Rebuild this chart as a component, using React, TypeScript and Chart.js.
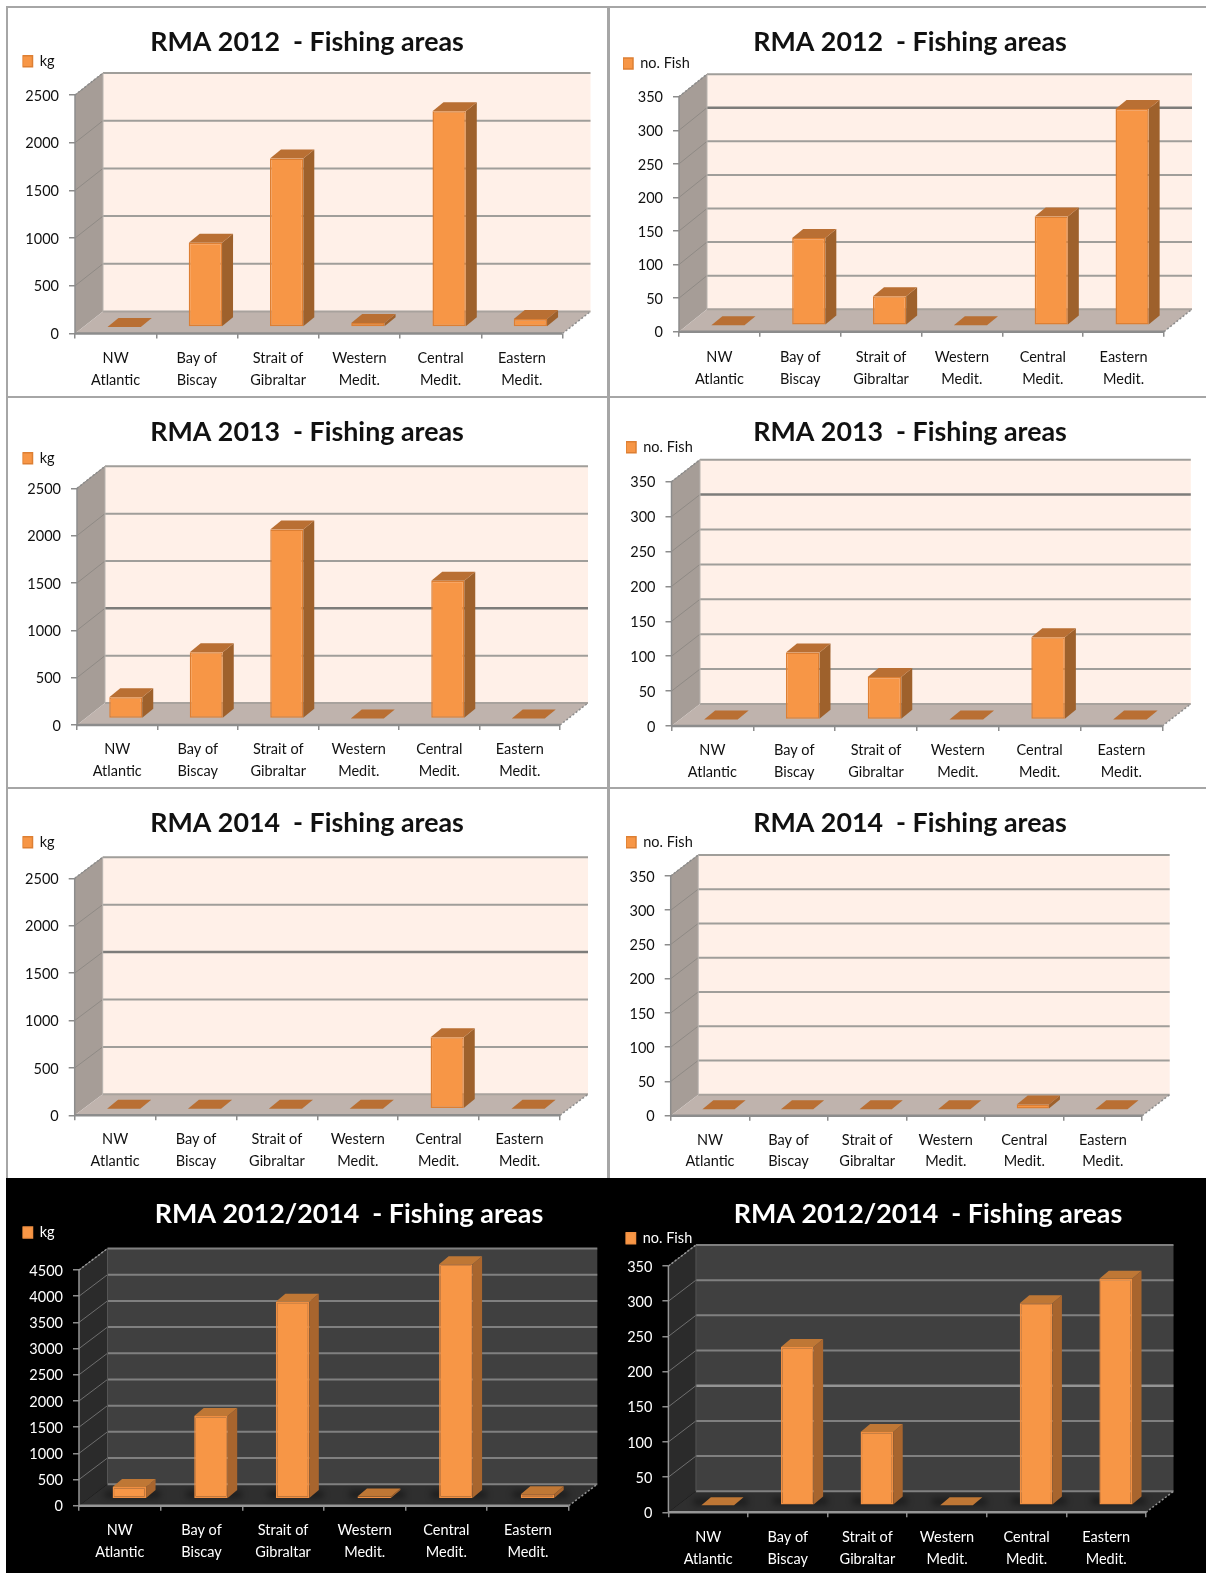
import React, { useEffect, useRef } from "react";
import { Chart, registerables } from "chart.js";

Chart.register(...registerables);

// Fishing areas shared by every panel
const areas: string[][] = [
  ["NW", "Atlantic"],
  ["Bay of", "Biscay"],
  ["Strait of", "Gibraltar"],
  ["Western", "Medit."],
  ["Central", "Medit."],
  ["Eastern", "Medit."],
];

// Catch weight per area
const kg2012 = [0, 882, 1765, 42, 2262, 85];
const kg2013 = [224, 699, 1996, 0, 1455, 0];
const kg2014 = [0, 0, 0, 0, 755, 0];
const kgTotal = [224, 1581, 3761, 42, 4477, 85];

// Fish counts per area
const fish2012 = [0, 130, 43, 0, 162, 322];
const fish2013 = [0, 96, 61, 0, 118, 0];
const fish2014 = [0, 0, 0, 0, 7, 0];
const fishTotal = [0, 225, 104, 0, 287, 322];

const FONT = "Lato, 'Noto Sans', sans-serif";

type Palette = {
  text: string;
  wall: string;
  side: string;
  floor: string;
  grid: string;
  strong: string;
  sideGrid: string;
  edge: string;
  barEdge: string;
  barSide: string;
  barTop: string;
  dark: boolean;
};

const lightPalette: Palette = {
  text: "#111111",
  wall: "#fff0e8",
  side: "#a69d97",
  floor: "#bfb3ad",
  grid: "#a09e9a",
  strong: "#7d7c7a",
  sideGrid: "#8f8a85",
  edge: "#8c8c8c",
  barEdge: "#dd7f33",
  barSide: "#9e612c",
  barTop: "#b96f33",
  dark: false,
};

const darkPalette: Palette = {
  text: "#ffffff",
  wall: "#404040",
  side: "#2b2b2b",
  floor: "#2f2f2f",
  grid: "#808080",
  strong: "#949494",
  sideGrid: "#6e6e6e",
  edge: "#969696",
  barEdge: "#f08f42",
  barSide: "#a8652e",
  barTop: "#bf7735",
  dark: true,
};

type Panel = {
  title: string;
  unit: string;
  values: number[];
  max: number;
  step: number;
  strong: number[];
  palette: Palette;
  top: number; // panel top edge
  height: number;
  titleX: number; // heading centre
  canvasLeft: number;
  canvasRight: number;
  titleY: number; // centre of the title's capitals
  legendX: number;
  legendY: number;
  axisX: number; // front left corner of the floor
  frontRight: number;
  valueTop: number; // page y of the scale maximum on the front plane
  valueZero: number; // page y of zero on the front plane
  labelGap: number;
  depthX: number;
  depthY: number;
  barDepthX: number;
  barDepthY: number;
  barShiftX: number;
  barShiftY: number;
};

const T2012 = "RMA 2012  - Fishing areas";
const T2013 = "RMA 2013  - Fishing areas";
const T2014 = "RMA 2014  - Fishing areas";
const TALL = "RMA 2012/2014  - Fishing areas";

const lightBar = { barDepthX: 11, barDepthY: 9, barShiftX: 8.5, barShiftY: 6.5 };
const darkBar = { barDepthX: 9.5, barDepthY: 8, barShiftX: 9.5, barShiftY: 7 };

const panels: Panel[] = [
  { title: T2012, unit: "kg", values: kg2012, max: 2500, step: 500, strong: [], palette: lightPalette, top: 8, height: 388, titleX: 307, canvasLeft: 10, canvasRight: 600, titleY: 42.5, legendX: 22.5, legendY: 55.7, axisX: 75, frontRight: 562.5, valueTop: 95, valueZero: 333.5, labelGap: 9, depthX: 28, depthY: 22, ...lightBar },
  { title: T2012, unit: "no. Fish", values: fish2012, max: 350, step: 50, strong: [300], palette: lightPalette, top: 8, height: 388, titleX: 910, canvasLeft: 612, canvasRight: 1204, titleY: 42.5, legendX: 623, legendY: 58, axisX: 679, frontRight: 1164, valueTop: 96.7, valueZero: 331.7, labelGap: 10, depthX: 28, depthY: 22.5, ...lightBar },
  { title: T2013, unit: "kg", values: kg2013, max: 2500, step: 500, strong: [1000], palette: lightPalette, top: 398, height: 389, titleX: 307, canvasLeft: 10, canvasRight: 600, titleY: 432.5, legendX: 22.5, legendY: 452.7, axisX: 77, frontRight: 560, valueTop: 488.3, valueZero: 725, labelGap: 8.5, depthX: 28, depthY: 22, ...lightBar },
  { title: T2013, unit: "no. Fish", values: fish2013, max: 350, step: 50, strong: [300], palette: lightPalette, top: 398, height: 389, titleX: 910, canvasLeft: 612, canvasRight: 1204, titleY: 432.5, legendX: 626, legendY: 441.7, axisX: 671.5, frontRight: 1162.3, valueTop: 481.7, valueZero: 726, labelGap: 8.5, depthX: 28.5, depthY: 22, ...lightBar },
  { title: T2014, unit: "kg", values: kg2014, max: 2500, step: 500, strong: [1500], palette: lightPalette, top: 789, height: 389, titleX: 307, canvasLeft: 10, canvasRight: 600, titleY: 823.5, legendX: 22.5, legendY: 836.7, axisX: 74.7, frontRight: 560, valueTop: 878.3, valueZero: 1115.3, labelGap: 8.5, depthX: 28, depthY: 21, ...lightBar },
  { title: T2014, unit: "no. Fish", values: fish2014, max: 350, step: 50, strong: [], palette: lightPalette, top: 789, height: 389, titleX: 910, canvasLeft: 612, canvasRight: 1204, titleY: 823.5, legendX: 626, legendY: 836.7, axisX: 670.7, frontRight: 1142.2, valueTop: 876, valueZero: 1115.7, labelGap: 8.5, depthX: 27.5, depthY: 21, ...lightBar },
  { title: TALL, unit: "kg", values: kgTotal, max: 4500, step: 500, strong: [], palette: darkPalette, top: 1178, height: 395, titleX: 349, canvasLeft: 10, canvasRight: 604, titleY: 1214, legendX: 22.5, legendY: 1227, axisX: 79, frontRight: 568.8, valueTop: 1270, valueZero: 1505.7, labelGap: 9, depthX: 28.5, depthY: 21.5, ...darkBar },
  { title: TALL, unit: "no. Fish", values: fishTotal, max: 350, step: 50, strong: [150], palette: darkPalette, top: 1178, height: 395, titleX: 928, canvasLeft: 612, canvasRight: 1204, titleY: 1214, legendX: 625.5, legendY: 1232.7, axisX: 668.4, frontRight: 1146, valueTop: 1266, valueZero: 1512.3, labelGap: 9, depthX: 27.5, depthY: 21, ...darkBar },
];

const TITLE_SIZE = 26.8;
const TICK_SIZE = 14.5;
const LEGEND_SIZE = 14.5;
const BOX_W = 10;
const BOX_H = 11;

function polygon(ctx: CanvasRenderingContext2D, pts: number[][], fill: string) {
  ctx.beginPath();
  pts.forEach(([x, y], i) => (i ? ctx.lineTo(x, y) : ctx.moveTo(x, y)));
  ctx.closePath();
  ctx.fillStyle = fill;
  ctx.fill();
}

function segment(
  ctx: CanvasRenderingContext2D,
  x1: number,
  y1: number,
  x2: number,
  y2: number,
  color: string,
  width: number,
) {
  ctx.beginPath();
  ctx.moveTo(x1, y1);
  ctx.lineTo(x2, y2);
  ctx.strokeStyle = color;
  ctx.lineWidth = width;
  ctx.stroke();
}

// Draws the box the columns stand in and gives each column its top and side faces.
function depthPlugin(panel: Panel) {
  const { depthX: dx, depthY: dy, palette: c } = panel;
  return {
    id: "depthWalls",
    beforeDraw(chart: any) {
      // The heading and the key sit at fixed spots in the panel, independent of the plot box.
      chart.legend.left = panel.legendX - panel.canvasLeft;
      chart.legend.top = panel.legendY - panel.top - (LEGEND_SIZE - BOX_H) / 2;
      const half = Math.min(panel.titleX - panel.canvasLeft, panel.canvasRight - panel.titleX);
      chart.titleBlock.left = panel.titleX - panel.canvasLeft - half;
      chart.titleBlock.right = panel.titleX - panel.canvasLeft + half;
    },
    beforeDatasetsDraw(chart: any) {
      const { ctx, chartArea: a } = chart;
      const yScale = chart.scales.y;
      const x0 = a.left;
      const x1 = a.right;
      const yT = a.top;
      const yB = a.bottom;

      ctx.save();
      polygon(ctx, [[x0 + dx, yT - dy], [x1 + dx, yT - dy], [x1 + dx, yB - dy], [x0 + dx, yB - dy]], c.wall);
      polygon(ctx, [[x0, yT], [x0 + dx, yT - dy], [x0 + dx, yB - dy], [x0, yB]], c.side);
      polygon(ctx, [[x0, yB], [x0 + dx, yB - dy], [x1 + dx, yB - dy], [x1, yB]], c.floor);

      for (const tick of yScale.ticks) {
        const y = yScale.getPixelForValue(tick.value);
        if (tick.value !== 0) {
          segment(ctx, x0, y, x0 + dx, y - dy, c.sideGrid, 1);
          const strong = panel.strong.includes(tick.value);
          segment(ctx, x0 + dx, y - dy, x1 + dx, y - dy, strong ? c.strong : c.grid, strong ? 2.5 : 2);
        }
      }
      segment(ctx, x0 + dx, yB - dy, x1 + dx, yB - dy, c.dark ? c.grid : "#a8a29d", 2);
      segment(ctx, x0, yB, x1, yB, c.edge, 2.5);
      segment(ctx, x0, yT, x0, yB, c.edge, 1.5);
      segment(ctx, x0 + dx, yT - dy, x0 + dx, yB - dy, c.dark ? "#555555" : "#b9b3ae", 1);
      ctx.setLineDash([2, 2]);
      segment(ctx, x1, yB, x1 + dx, yB - dy, c.edge, 1.5);
      segment(ctx, x0, yT, x0 + dx, yT - dy, c.edge, 1.5);
      ctx.setLineDash([]);

      ctx.translate(panel.barShiftX, -panel.barShiftY);
      const meta = chart.getDatasetMeta(0);
      for (const bar of meta.data) {
        const { x, y, base, width } = bar.getProps(["x", "y", "base", "width"], true);
        const l = x - width / 2;
        const r = x + width / 2;
        const bx = panel.barDepthX;
        const by = panel.barDepthY;
        if (c.dark) {
          ctx.save();
          ctx.filter = "blur(3px)";
          ctx.fillStyle = "rgba(0,0,0,0.4)";
          ctx.fillRect(l - 8, base - 7, width + 22, 7);
          ctx.restore();
        }
        polygon(ctx, [[r, y], [r + bx, y - by], [r + bx, base - by], [r, base]], c.barSide);
        polygon(ctx, [[l, y], [l + bx, y - by], [r + bx, y - by], [r, y]], c.barTop);
      }
    },
    afterDatasetsDraw(chart: any) {
      chart.ctx.restore();
    },
  };
}

function FishingPanel({ panel }: { panel: Panel }) {
  const ref = useRef<HTMLCanvasElement | null>(null);
  const canvasWidth = panel.canvasRight - panel.canvasLeft;

  useEffect(() => {
    if (!ref.current) return;
    const titleLine = TITLE_SIZE * 1.2;
    const titleTop = panel.titleY - panel.top - titleLine / 2;
    const chart: any = new Chart(ref.current, {
      type: "bar",
      data: {
        labels: areas,
        datasets: [
          {
            label: panel.unit,
            data: panel.values,
            backgroundColor: "#f79646",
            borderColor: panel.palette.barEdge,
            borderWidth: 1.5,
            borderSkipped: false,
            categoryPercentage: 0.41,
            barPercentage: 1,
            clip: false,
          } as any,
        ],
      },
      plugins: [depthPlugin(panel)],
      options: {
        responsive: false,
        animation: false,
        events: [],
        layout: {
          padding: { left: 0, top: 0, bottom: 0, right: panel.canvasRight - panel.frontRight },
        },
        plugins: {
          tooltip: { enabled: false },
          title: {
            display: true,
            text: panel.title,
            color: panel.palette.text,
            font: { family: FONT, size: TITLE_SIZE, weight: "bold", lineHeight: 1.2 },
            padding: { top: titleTop, bottom: 0 },
          },
          legend: {
            display: true,
            position: "top",
            align: "start",
            labels: {
              boxWidth: BOX_W,
              boxHeight: BOX_H,
              padding: 0,
              color: panel.palette.text,
              font: { family: FONT, size: LEGEND_SIZE },
            },
          },
        },
        scales: {
          x: {
            grid: { display: true, drawOnChartArea: false, drawTicks: true, tickLength: 5, color: "#8c8c8c", lineWidth: 1.5 },
            border: { display: false },
            ticks: {
              color: panel.palette.text,
              padding: panel.labelGap,
              maxRotation: 0,
              minRotation: 0,
              autoSkip: false,
              font: { family: FONT, size: TICK_SIZE, lineHeight: 1.5 },
            },
            afterFit: (s: any) => {
              s.height = panel.top + panel.height - panel.valueZero;
            },
          },
          y: {
            min: 0,
            max: panel.max,
            grid: { display: true, drawOnChartArea: false, drawTicks: true, tickLength: 6, color: "#8c8c8c", lineWidth: 1.5 },
            border: { display: false },
            ticks: {
              stepSize: panel.step,
              color: panel.palette.text,
              padding: 10,
              labelOffset: 1,
              font: { family: FONT, size: TICK_SIZE },
              callback: (v: number) => String(v),
            },
            afterFit: (s: any) => {
              s.width = panel.axisX - panel.canvasLeft;
            },
          },
        },
      } as any,
    });

    // Title padding takes up whatever remains between the heading and the scale maximum.
    for (let i = 0; i < 2; i++) {
      const gap = panel.valueTop - panel.top - chart.chartArea.top;
      chart.options.plugins.title.padding = { top: titleTop, bottom: chart.options.plugins.title.padding.bottom + gap };
      chart.update();
    }
    return () => chart.destroy();
  }, [panel]);

  return (
    <canvas
      ref={ref}
      width={canvasWidth}
      height={panel.height}
      style={{ position: "absolute", left: panel.canvasLeft, top: panel.top }}
    />
  );
}

const frameColor = "#a6a6a6";
const rule = (left: number, top: number, width: number, height: number, background = frameColor) => (
  <div style={{ position: "absolute", left, top, width, height, background }} />
);

export default function App() {
  return (
    <div style={{ position: "absolute", left: 0, top: 0, width: 1206, height: 1573, overflow: "hidden", background: "#ffffff" }}>
      {rule(6, 6, 1200, 2)}
      {rule(6, 396, 1200, 2)}
      {rule(6, 787, 1200, 2)}
      {rule(6, 6, 2, 1172)}
      {rule(607, 6, 3, 1172)}
      {rule(6, 1178, 1200, 395, "#000000")}
      {panels.map((p, i) => (
        <FishingPanel key={i} panel={p} />
      ))}
    </div>
  );
}
